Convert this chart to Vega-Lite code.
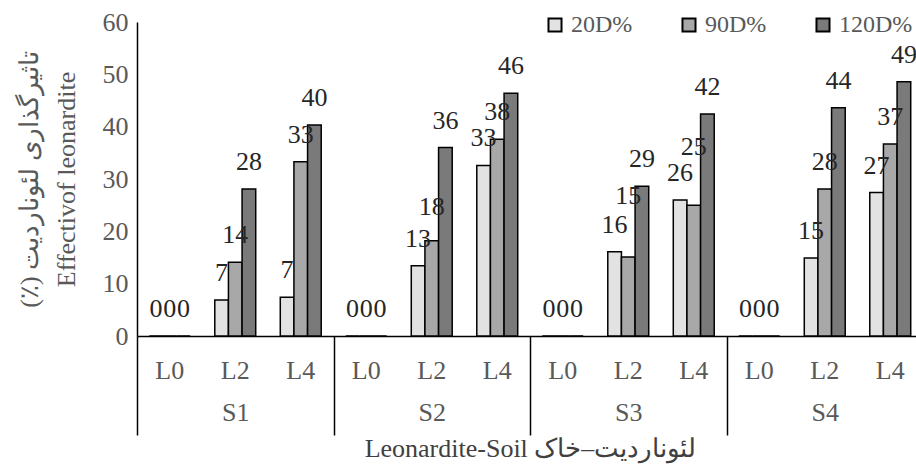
{
  "$schema": "https://vega.github.io/schema/vega-lite/v6.json",
  "autosize": "none",
  "padding": {"left": 137, "top": 22, "right": 0, "bottom": 130},
  "width": 786,
  "height": 314,
  "background": "white",
  "config": {
    "view": {"stroke": null},
    "font": "Liberation Serif, Times New Roman, serif",
    "text": {"font": "Liberation Serif, Times New Roman, serif"}
  },
  "data": {
    "values": [
      {"S": "S1", "cat": "S1-L0", "D": "20D%", "v": 0},
      {"S": "S1", "cat": "S1-L0", "D": "90D%", "v": 0},
      {"S": "S1", "cat": "S1-L0", "D": "120D%", "v": 0},
      {"S": "S1", "cat": "S1-L2", "D": "20D%", "v": 6.9},
      {"S": "S1", "cat": "S1-L2", "D": "90D%", "v": 14.1},
      {"S": "S1", "cat": "S1-L2", "D": "120D%", "v": 28.1},
      {"S": "S1", "cat": "S1-L4", "D": "20D%", "v": 7.4},
      {"S": "S1", "cat": "S1-L4", "D": "90D%", "v": 33.3},
      {"S": "S1", "cat": "S1-L4", "D": "120D%", "v": 40.3},
      {"S": "S2", "cat": "S2-L0", "D": "20D%", "v": 0},
      {"S": "S2", "cat": "S2-L0", "D": "90D%", "v": 0},
      {"S": "S2", "cat": "S2-L0", "D": "120D%", "v": 0},
      {"S": "S2", "cat": "S2-L2", "D": "20D%", "v": 13.4},
      {"S": "S2", "cat": "S2-L2", "D": "90D%", "v": 18.2},
      {"S": "S2", "cat": "S2-L2", "D": "120D%", "v": 36.0},
      {"S": "S2", "cat": "S2-L4", "D": "20D%", "v": 32.6},
      {"S": "S2", "cat": "S2-L4", "D": "90D%", "v": 37.6},
      {"S": "S2", "cat": "S2-L4", "D": "120D%", "v": 46.4},
      {"S": "S3", "cat": "S3-L0", "D": "20D%", "v": 0},
      {"S": "S3", "cat": "S3-L0", "D": "90D%", "v": 0},
      {"S": "S3", "cat": "S3-L0", "D": "120D%", "v": 0},
      {"S": "S3", "cat": "S3-L2", "D": "20D%", "v": 16.1},
      {"S": "S3", "cat": "S3-L2", "D": "90D%", "v": 15.1},
      {"S": "S3", "cat": "S3-L2", "D": "120D%", "v": 28.6},
      {"S": "S3", "cat": "S3-L4", "D": "20D%", "v": 26.0},
      {"S": "S3", "cat": "S3-L4", "D": "90D%", "v": 25.0},
      {"S": "S3", "cat": "S3-L4", "D": "120D%", "v": 42.4},
      {"S": "S4", "cat": "S4-L0", "D": "20D%", "v": 0},
      {"S": "S4", "cat": "S4-L0", "D": "90D%", "v": 0},
      {"S": "S4", "cat": "S4-L0", "D": "120D%", "v": 0},
      {"S": "S4", "cat": "S4-L2", "D": "20D%", "v": 14.9},
      {"S": "S4", "cat": "S4-L2", "D": "90D%", "v": 28.1},
      {"S": "S4", "cat": "S4-L2", "D": "120D%", "v": 43.6},
      {"S": "S4", "cat": "S4-L4", "D": "20D%", "v": 27.4},
      {"S": "S4", "cat": "S4-L4", "D": "90D%", "v": 36.7},
      {"S": "S4", "cat": "S4-L4", "D": "120D%", "v": 48.6}
    ]
  },
  "layer": [
    {
      "mark": {"type": "bar", "stroke": "black", "strokeWidth": 1.5},
      "encoding": {
        "x": {
          "field": "cat",
          "type": "nominal",
          "sort": null,
          "scale": {"paddingInner": 0, "paddingOuter": 0},
          "axis": {
            "orient": "bottom",
            "title": null,
            "labelAngle": 0,
            "labelFont": "Liberation Serif, Times New Roman, serif",
            "labelFontSize": 26,
            "labelColor": "#595959",
            "labelBaseline": "middle",
            "labelPadding": 34,
            "labelExpr": "split(datum.value,'-')[1]",
            "domainColor": "black",
            "domainWidth": 1.5,
            "ticks": false
          }
        },
        "xOffset": {
          "field": "D",
          "type": "nominal",
          "sort": ["20D%", "90D%", "120D%"],
          "scale": {"paddingInner": 0, "paddingOuter": 0.9}
        },
        "y": {
          "field": "v",
          "type": "quantitative",
          "scale": {"domain": [0, 60], "nice": false},
          "axis": {
            "values": [0, 10, 20, 30, 40, 50, 60],
            "grid": false,
            "ticks": false,
            "domainColor": "black",
            "domainWidth": 1.5,
            "labelFont": "Liberation Serif, Times New Roman, serif",
            "labelFontSize": 26,
            "labelColor": "#595959",
            "labelPadding": 9,
            "title": ["(٪) تاثیرگذاری لئوناردیت", "Effectivof leonardite"],
            "titleFont": "Liberation Serif, Times New Roman, serif",
            "titleFontSize": 26,
            "titleFontWeight": "normal",
            "titleColor": "#595959",
            "titleLineHeight": 37,
            "titlePadding": 23
          }
        },
        "fill": {
          "field": "D",
          "type": "nominal",
          "sort": ["20D%", "90D%", "120D%"],
          "scale": {"domain": ["20D%", "90D%", "120D%"], "range": ["#e2e2e2", "#a8a8a8", "#7a7a7a"]},
          "legend": {
            "title": null,
            "orient": "none",
            "direction": "horizontal",
            "gridAlign": "none",
            "legendX": 406,
            "legendY": -9,
            "symbolType": "square",
            "symbolSize": 170,
            "symbolStrokeColor": "black",
            "symbolStrokeWidth": 2,
            "labelFont": "Liberation Serif, Times New Roman, serif",
            "labelFontSize": 24,
            "labelColor": "#595959",
            "labelOffset": 4,
            "columnPadding": 44
          }
        }
      }
    },
    {
      "transform": [
        {"calculate": "(datum.D == '90D%' && datum.cat == 'S3-L2') ? datum.v + 6.5 : ((datum.D == '90D%' && datum.cat == 'S3-L4') ? datum.v + 6 : ((datum.D == '90D%' && datum.cat == 'S2-L2') ? datum.v + 1.3 : datum.v))", "as": "ly"}
      ],
      "mark": {"type": "text", "dy": -27, "fontSize": 26, "font": "Liberation Serif, Times New Roman, serif", "color": "#262626"},
      "encoding": {
        "x": {"field": "cat", "type": "nominal", "sort": null, "scale": {"paddingInner": 0, "paddingOuter": 0}, "axis": null},
        "xOffset": {
          "field": "D",
          "type": "nominal",
          "sort": ["20D%", "90D%", "120D%"],
          "scale": {"paddingInner": 0, "paddingOuter": 0.9}
        },
        "y": {"field": "ly", "type": "quantitative"},
        "text": {"field": "v", "type": "quantitative", "format": ".0f"}
      }
    },
    {
      "mark": {"type": "text", "opacity": 0},
      "encoding": {
        "x": {
          "field": "S",
          "type": "nominal",
          "scale": {"paddingInner": 0, "paddingOuter": 0},
          "axis": {
            "orient": "bottom",
            "title": "Leonardite-Soil لئوناردیت–خاک",
            "titleFont": "Liberation Serif, Times New Roman, serif",
            "titleFontSize": 26,
            "titleFontWeight": "normal",
            "titleColor": "#404040",
            "titlePadding": 0,
            "labelAngle": 0,
            "labelFont": "Liberation Serif, Times New Roman, serif",
            "labelFontSize": 26,
            "labelColor": "#595959",
            "labelBaseline": "middle",
            "labelPadding": -23,
            "domain": false,
            "ticks": true,
            "tickBand": "extent",
            "tickSize": 99,
            "tickWidth": 1.5,
            "tickColor": "black"
          }
        }
      }
    }
  ],
  "resolve": {"scale": {"x": "independent"}, "axis": {"x": "independent"}}
}
